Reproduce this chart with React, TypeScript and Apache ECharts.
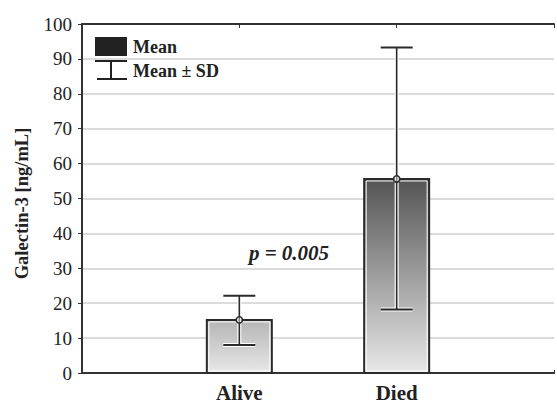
import React, { useEffect, useRef } from "react";
import * as echarts from "echarts";

const categories = ["", "Alive", "Died", ""];
const meanValues = [15.2, 55.6];
const sdUpper = [22.1, 93.3];
const sdLower = [8.0, 18.2];
const groupIndex = [1, 2];
const topColors = ["#b5b5b5", "#545454"];
const yTicks = [0, 100, 10];
const yTitle = "Galectin-3 [ng/mL]";
const pText = "p = 0.005";

const SERIF = "'Liberation Serif', 'Times New Roman', serif";

export default function App() {
  const ref = useRef<HTMLDivElement>(null);
  useEffect(() => {
    if (!ref.current) return;
    const chart = echarts.init(ref.current, null, { renderer: "svg" });
    const data = groupIndex.map((g, i) => [g, meanValues[i], sdUpper[i], sdLower[i], i]);
    chart.setOption({
      animation: false,
      backgroundColor: "#ffffff",
      grid: { left: 82, right: 0, top: 24, bottom: 30 },
      xAxis: [
        {
          type: "category",
          data: categories,
          boundaryGap: false,
          axisLine: { lineStyle: { color: "#333", width: 2 } },
          axisTick: { inside: true, length: 3, lineStyle: { color: "#333" } },
          axisLabel: {
            fontFamily: SERIF,
            fontWeight: "bold",
            fontSize: 21,
            color: "#222",
            margin: 9,
          },
          splitLine: { show: false },
        },
        {
          type: "category",
          data: categories,
          boundaryGap: false,
          position: "top",
          axisLine: { lineStyle: { color: "#333", width: 2 } },
          axisTick: { inside: true, length: 4, lineStyle: { color: "#333" } },
          axisLabel: { show: false },
        },
      ],
      yAxis: {
        type: "value",
        min: yTicks[0],
        max: yTicks[1],
        interval: yTicks[2],
        name: yTitle,
        nameLocation: "middle",
        nameGap: 51,
        nameTextStyle: {
          fontFamily: SERIF,
          fontWeight: "bold",
          fontSize: 18.5,
          color: "#222",
          padding: [0, 0, 0, -10],
        },
        axisLine: { show: true, lineStyle: { color: "#333", width: 2 } },
        axisTick: { show: true, length: 4, lineStyle: { color: "#333" } },
        axisLabel: {
          fontFamily: SERIF,
          fontSize: 19,
          color: "#222",
          margin: 10,
        },
        splitLine: { show: true, lineStyle: { color: "#cfcfcf", width: 1.5 } },
      },
      graphic: [
        { type: "rect", shape: { x: 95, y: 37, width: 32, height: 19 }, style: { fill: "#222" } },
        { type: "line", shape: { x1: 95, y1: 61, x2: 127, y2: 61 }, style: { stroke: "#222", lineWidth: 2 } },
        { type: "line", shape: { x1: 111, y1: 61, x2: 111, y2: 79 }, style: { stroke: "#222", lineWidth: 2 } },
        { type: "line", shape: { x1: 97, y1: 79, x2: 127, y2: 79 }, style: { stroke: "#222", lineWidth: 2 } },
        {
          type: "text",
          x: 133,
          y: 47,
          style: { text: "Mean", font: `bold 18px ${SERIF}`, fill: "#222", textVerticalAlign: "middle" },
        },
        {
          type: "text",
          x: 133,
          y: 71,
          style: { text: "Mean ± SD", font: `bold 18px ${SERIF}`, fill: "#222", textVerticalAlign: "middle" },
        },
        {
          type: "text",
          x: 289,
          y: 253,
          style: {
            text: pText,
            font: `italic bold 21px ${SERIF}`,
            fill: "#222",
            textAlign: "center",
            textVerticalAlign: "middle",
          },
        },
      ],
      series: [
        {
          type: "custom",
          xAxisIndex: 0,
          data,
          renderItem: (params: any, api: any) => {
            const x = api.value(0);
            const mean = api.value(1);
            const up = api.value(2);
            const lo = api.value(3);
            const idx = api.value(4);
            const top = api.coord([x, mean]);
            const base = api.coord([x, 0]);
            const pu = api.coord([x, up]);
            const pl = api.coord([x, lo]);
            const bw = 65;
            const cw = 32;
            const cx = top[0];
            return {
              type: "group",
              children: [
                {
                  type: "rect",
                  shape: { x: cx - bw / 2, y: top[1], width: bw, height: base[1] - top[1] },
                  style: {
                    fill: new echarts.graphic.LinearGradient(0, 0, 0, 1, [
                      { offset: 0, color: topColors[idx] },
                      { offset: 1, color: "#e8e8e8" },
                    ]),
                    stroke: "#2a2a2a",
                    lineWidth: 2,
                  },
                },
                {
                  type: "rect",
                  shape: { x: cx - bw / 2 + 2, y: top[1] + 2, width: bw - 4, height: base[1] - top[1] - 4 },
                  style: { fill: "none", stroke: "#ffffff", lineWidth: 1 },
                },
                {
                  type: "line",
                  shape: { x1: cx, y1: pu[1], x2: cx, y2: pl[1] },
                  style: { stroke: "#ffffff", lineWidth: 4 },
                },
                {
                  type: "line",
                  shape: { x1: cx - cw / 2, y1: pl[1], x2: cx + cw / 2, y2: pl[1] },
                  style: { stroke: "#ffffff", lineWidth: 4 },
                },
                {
                  type: "line",
                  shape: { x1: cx, y1: pu[1], x2: cx, y2: pl[1] },
                  style: { stroke: "#2a2a2a", lineWidth: 1.6 },
                },
                {
                  type: "line",
                  shape: { x1: cx - cw / 2, y1: pu[1], x2: cx + cw / 2, y2: pu[1] },
                  style: { stroke: "#2a2a2a", lineWidth: 2 },
                },
                {
                  type: "line",
                  shape: { x1: cx - cw / 2, y1: pl[1], x2: cx + cw / 2, y2: pl[1] },
                  style: { stroke: "#2a2a2a", lineWidth: 2 },
                },
                {
                  type: "circle",
                  shape: { cx: cx, cy: top[1], r: 3.2 },
                  style: { fill: "rgba(255,255,255,0.4)", stroke: "#2a2a2a", lineWidth: 1.5 },
                },
              ],
            };
          },
        },
      ],
    });
    return () => chart.dispose();
  }, []);
  return <div ref={ref} style={{ width: 557, height: 403, position: "absolute", left: 0, top: 0 }} />;
}
